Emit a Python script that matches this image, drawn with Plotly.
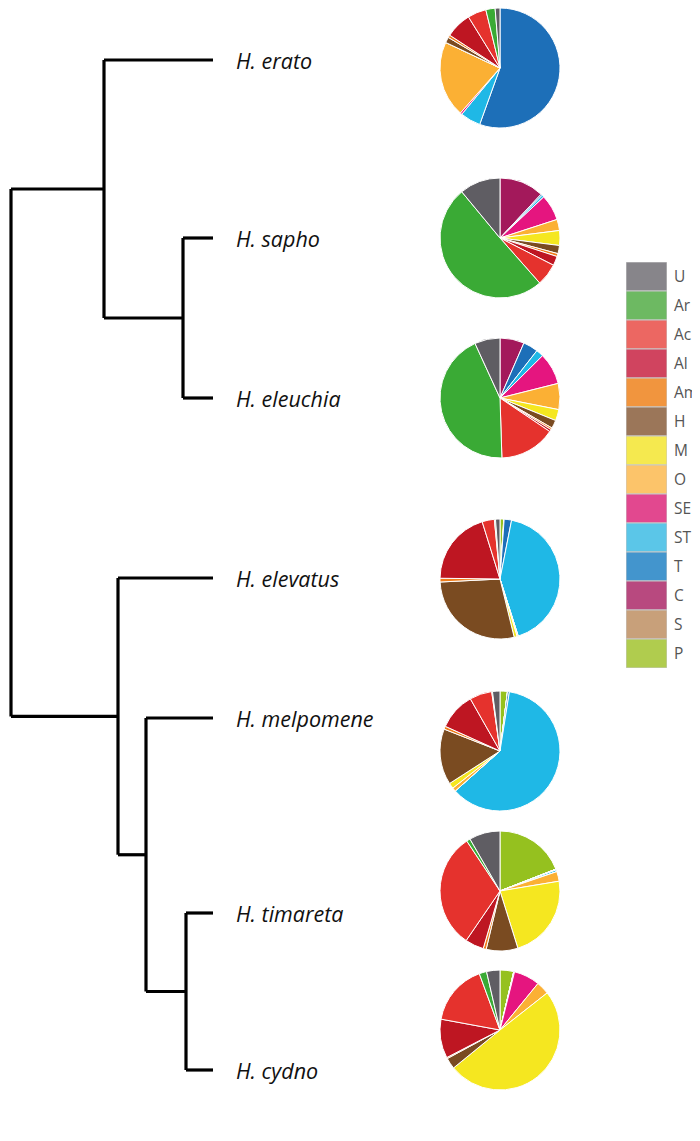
import plotly.graph_objects as go

# ---------------- data ----------------
species = ["H. erato", "H. sapho", "H. eleuchia", "H. elevatus",
           "H. melpomene", "H. timareta", "H. cydno"]

# categories in legend order
categories = ["U", "Ar", "Ac", "Al", "Am", "H", "M", "O", "SE", "ST", "T", "C", "S", "P"]

# percentage composition per species (legend order: U, Ar, Ac, Al, Am, H, M, O, SE, ST, T, C, S, P)
erato     = [1.3, 2.5, 5.0, 7.0, 0.7, 1.5, 0.0, 20.5, 0.5, 5.5, 55.5, 0.0, 0.0, 0.0]
sapho     = [11.0, 50.5, 6.0, 2.5, 0.8, 2.2, 4.0, 3.0, 7.0, 0.6, 0.4, 12.0, 0.0, 0.0]
eleuchia  = [6.8, 43.5, 15.0, 0.6, 0.5, 2.2, 3.0, 7.0, 8.5, 2.0, 4.0, 6.5, 0.0, 0.0]
elevatus  = [1.2, 0.3, 3.3, 20.0, 1.0, 28.0, 0.8, 0.3, 0.0, 42.0, 2.0, 0.0, 0.1, 1.0]
melpomene = [2.0, 0.2, 6.0, 10.0, 0.8, 15.0, 1.5, 1.0, 0.0, 60.7, 0.5, 0.0, 0.0, 2.0]
timareta  = [8.3, 1.0, 31.0, 5.0, 0.8, 8.5, 22.7, 2.6, 0.0, 0.5, 0.2, 0.0, 0.0, 19.0]
cydno     = [3.6, 2.0, 16.5, 10.5, 0.3, 3.0, 49.7, 3.5, 7.0, 0.0, 0.2, 0.0, 0.0, 3.7]
compositions = [erato, sapho, eleuchia, elevatus, melpomene, timareta, cydno]

# tree: internal node -> (depth, children); tips sit at depth tip_depth
tree_nodes = {
    "root": (3,   ["n1", "n2"]),
    "n1":   (96,  ["H. erato", "n3"]),
    "n3":   (175, ["H. sapho", "H. eleuchia"]),
    "n2":   (110, ["H. elevatus", "n4"]),
    "n4":   (138, ["H. melpomene", "n5"]),
    "n5":   (178, ["H. timareta", "H. cydno"]),
}
tip_depth = 205

# ---------------- layout / style ----------------
W, H = 700, 1141
tip_y_px = [52, 230, 390, 570, 710, 905, 1062]      # vertical slot of each tip
pie_cy_px = [60, 230, 390, 571, 743, 883, 1022]     # pie centres
pie_cx_px, pie_r_px = 492, 60
legend_top_px, legend_bottom_px = 254, 660
legend_left_px, legend_right_px = 618, 659

pie_colors = {
    "U": "#5f5d63", "Ar": "#3aaa35", "Ac": "#e5322d", "Al": "#be1622",
    "Am": "#f07d1a", "H": "#7a4b21", "M": "#f5e720", "O": "#fbb034",
    "SE": "#e5157f", "ST": "#1fb8e6", "T": "#1d6fb8", "C": "#a3195b",
    "S": "#c49a6c", "P": "#95c11f",
}
legend_colors = {
    "U": "#87858a", "Ar": "#6db962", "Ac": "#ec6762", "Al": "#d0445f",
    "Am": "#f1953e", "H": "#9b7659", "M": "#f5e94f", "O": "#fcc46a",
    "SE": "#e2488f", "ST": "#5bc6e8", "T": "#4395cd", "C": "#b8497f",
    "S": "#c8a07a", "P": "#b0cc4e",
}

# ---------------- tree geometry via data coordinates ----------------
tip_pos = {s: tip_y_px[i] for i, s in enumerate(species)}

def node_y(name):
    if name in tip_pos:
        return tip_pos[name]
    return sum(node_y(c) for c in tree_nodes[name][1]) / 2.0

def node_x(name):
    return tip_depth if name in tip_pos else tree_nodes[name][0]

xs, ys = [], []
for name, (depth, children) in tree_nodes.items():
    cy = [node_y(c) for c in children]
    xs += [depth, depth, None]
    ys += [min(cy), max(cy), None]
    for c, y in zip(children, cy):
        xs += [depth, node_x(c), None]
        ys += [y, y, None]

fig = go.Figure()
fig.add_trace(go.Scatter(x=xs, y=ys, mode="lines",
                         line=dict(color="black", width=3.2),
                         hoverinfo="skip", showlegend=False, cliponaxis=False))

for s in species:
    fig.add_annotation(x=226, y=tip_pos[s], text="<i>%s</i>" % s, showarrow=False,
                       xanchor="left", yanchor="middle",
                       font=dict(family="Open Sans", size=21.5, color="#111"))

# ---------------- pies ----------------
order_cw = categories[::-1]   # clockwise order from 12 o'clock
for s, comp, cy_px in zip(species, compositions, pie_cy_px):
    vals = dict(zip(categories, comp))
    fig.add_trace(go.Pie(
        labels=order_cw, values=[vals[c] for c in order_cw],
        marker=dict(colors=[pie_colors[c] for c in order_cw],
                    line=dict(color="white", width=1)),
        sort=False, direction="clockwise", rotation=0,
        textinfo="none", hoverinfo="label+percent", showlegend=False,
        domain=dict(x=[(pie_cx_px - pie_r_px) / W, (pie_cx_px + pie_r_px) / W],
                    y=[1 - (cy_px + pie_r_px) / H, 1 - (cy_px - pie_r_px) / H]),
        name=s,
    ))

# ---------------- legend as a bar strip ----------------
fig.add_trace(go.Bar(
    x=[1] * len(categories), y=categories, orientation="h", width=1,
    marker=dict(color=[legend_colors[c] for c in categories],
                line=dict(color="#c8c8c8", width=1)),
    xaxis="x2", yaxis="y2", showlegend=False, hoverinfo="y",
))

fig.update_layout(
    width=W, height=H, margin=dict(l=0, r=0, t=0, b=0),
    paper_bgcolor="white", plot_bgcolor="white",
    xaxis=dict(range=[0, W], visible=False, domain=[0, 1]),
    yaxis=dict(range=[H, 0], visible=False, domain=[0, 1]),
    xaxis2=dict(domain=[legend_left_px / W, legend_right_px / W], range=[0, 1],
                visible=False, anchor="y2"),
    yaxis2=dict(domain=[1 - legend_bottom_px / H, 1 - legend_top_px / H], anchor="x2",
                categoryorder="array", categoryarray=categories[::-1],
                side="right", showgrid=False, zeroline=False, showline=False,
                ticks="", ticklabelstandoff=6, automargin=False,
                tickfont=dict(family="Open Sans", size=15.5, color="#555")),
)

fig.write_html("out.html")
